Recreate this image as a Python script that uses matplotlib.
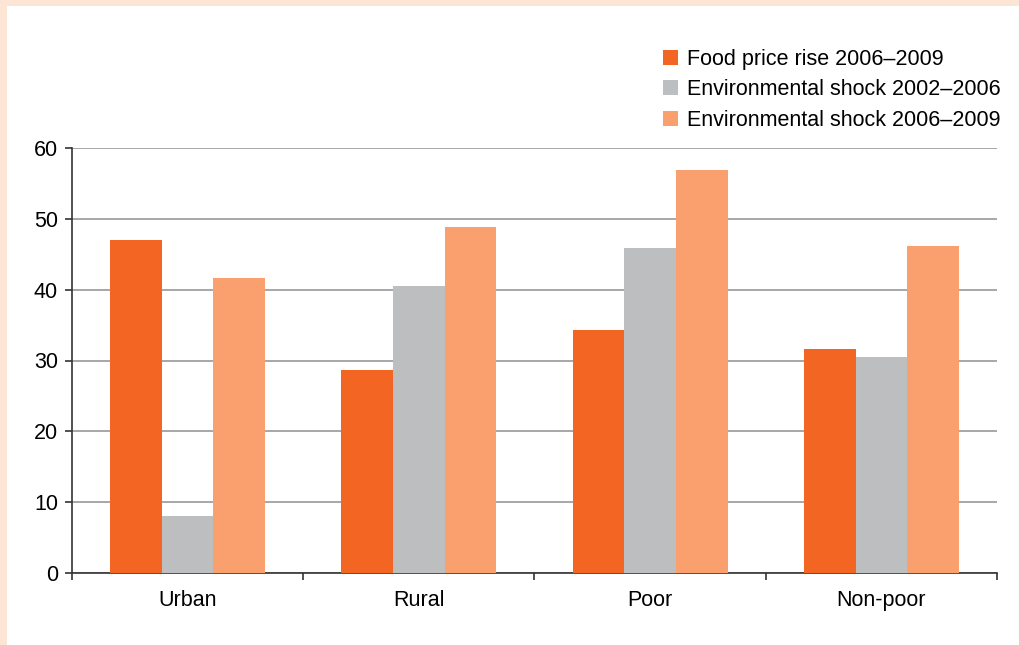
import numpy as np
import matplotlib
matplotlib.use("Agg")
import matplotlib.pyplot as plt
from matplotlib.patches import Rectangle

# data
categories = ["Urban", "Rural", "Poor", "Non-poor"]
series_names = ["Food price rise 2006\u20132009",
                "Environmental shock 2002\u20132006",
                "Environmental shock 2006\u20132009"]
food_0609 = [47.0, 28.6, 34.3, 31.6]
env_0206 = [8.0, 40.5, 45.9, 30.5]
env_0609 = [41.6, 48.8, 56.9, 46.2]
yticks = [0, 10, 20, 30, 40, 50, 60]

colors = ["#f26522", "#bcbec0", "#f9a06e"]
plt.rcParams['font.family'] = ['Liberation Sans', 'DejaVu Sans']

fig = plt.figure(figsize=(10.2, 6.45), dpi=100)
fig.patch.set_facecolor("white")
# peach frame on top and left edges
fig.add_artist(Rectangle((0, 1 - 6 / 645), 1, 6 / 645, transform=fig.transFigure,
                         color="#fde5d5", lw=0, zorder=0))
fig.add_artist(Rectangle((0, 0), 7 / 1020, 1, transform=fig.transFigure,
                         color="#fde5d5", lw=0, zorder=0))

ax = fig.add_axes([72 / 1020, 1 - 573 / 645, 925 / 1020, 425 / 645])

x = np.arange(len(categories))
w = 0.2235
for i, vals in enumerate([food_0609, env_0206, env_0609]):
    ax.bar(x + (i - 1) * w, vals, width=w, color=colors[i], label=series_names[i],
           zorder=3)

ax.set_xlim(-0.5, len(categories) - 0.5)
ax.set_ylim(0, 60)
ax.set_yticks(yticks)
ax.set_yticklabels([str(v) for v in yticks], fontsize=15.5)
ax.set_xticks(x)
ax.set_xticklabels(categories, fontsize=15.5)
ax.tick_params(axis="x", length=0, pad=12)
ax.set_xticks(np.arange(-0.5, len(categories)), minor=True)
ax.tick_params(axis="x", which="minor", length=5, width=1.2, color="#333333")
ax.tick_params(axis="y", length=5, width=1.2, color="#333333", pad=5)

ax.yaxis.grid(True, color="#a7a7a9", lw=1.4, zorder=0)
ax.set_axisbelow(True)
for s in ["top", "right"]:
    ax.spines[s].set_visible(False)
for s in ["left", "bottom"]:
    ax.spines[s].set_color("#333333")
    ax.spines[s].set_linewidth(1.2)

leg = ax.legend(loc="upper left", bbox_to_anchor=(663 / 1020, 1 - 49 / 645),
                bbox_transform=fig.transFigure, frameon=False, fontsize=15.5,
                handlelength=0.7, handleheight=0.7, handletextpad=0.42,
                labelspacing=0.44, borderaxespad=0, borderpad=0)

fig.savefig("out.png", dpi=100)
